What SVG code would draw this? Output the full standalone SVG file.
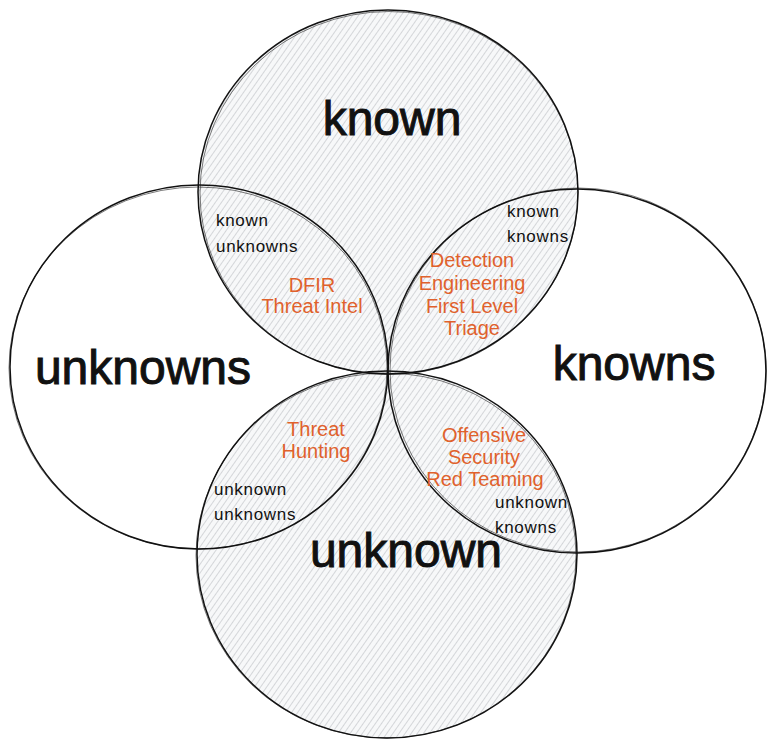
<svg xmlns="http://www.w3.org/2000/svg" width="775" height="749" viewBox="0 0 775 749">
  <style>
    .ring { fill: none; stroke: #111; stroke-width: 1.5; }
    .ring2 { fill: none; stroke: #111; stroke-width: 0.8; opacity: 0.7; }
    .hatch { fill: url(#hatch); stroke: none; }
    .big { font-family: "Liberation Sans", Arial, sans-serif; font-size: 48px; fill: #111; stroke: #111; stroke-width: 1; text-anchor: middle; }
    .small { font-family: "Liberation Sans", Arial, sans-serif; font-size: 17px; fill: #111; letter-spacing: 0.7px; }
    .role { font-family: "Liberation Sans", Arial, sans-serif; font-size: 20px; fill: #E0612C; text-anchor: middle; }
  </style>
  <defs>
    <pattern id="hatch" width="5" height="10" patternUnits="userSpaceOnUse" patternTransform="rotate(35)">
      <rect width="5" height="10" fill="#f7f8f9"/>
      <line x1="2.5" y1="0" x2="2.5" y2="10" stroke="#d4d6d9" stroke-width="1"/>
    </pattern>
  </defs>
  <rect width="775" height="749" fill="#ffffff"/>

  <!-- hatched fills -->
  <ellipse class="hatch" cx="388" cy="192" rx="190" ry="182"/>
  <ellipse class="hatch" cx="387" cy="554.5" rx="190" ry="183.5"/>

  <g id="circle-known">
    <ellipse class="ring" cx="388" cy="192" rx="190" ry="182"/>
    <ellipse class="ring2" cx="389" cy="193" rx="189" ry="181.5"/>
    <text class="big" x="392" y="135">known</text>
  </g>

  <g id="circle-unknowns">
    <ellipse class="ring" cx="199" cy="367" rx="189" ry="182"/>
    <ellipse class="ring2" cx="198" cy="368" rx="189" ry="181"/>
    <text class="big" x="143" y="384">unknowns</text>
  </g>

  <g id="circle-knowns">
    <ellipse class="ring" cx="577" cy="371" rx="189" ry="182"/>
    <ellipse class="ring2" cx="578" cy="370" rx="188" ry="182"/>
    <text class="big" x="634" y="380">knowns</text>
  </g>

  <g id="circle-unknown">
    <ellipse class="ring" cx="387" cy="554.5" rx="190" ry="183.5"/>
    <ellipse class="ring2" cx="386" cy="555.5" rx="190" ry="182.5"/>
    <text class="big" x="406" y="567">unknown</text>
  </g>

  <g id="lens-known-unknowns">
    <text class="small" x="216" y="226">known</text>
    <text class="small" x="216" y="252">unknowns</text>
    <text class="role" x="312" y="292">DFIR</text>
    <text class="role" x="312" y="313">Threat Intel</text>
  </g>

  <g id="lens-known-knowns">
    <text class="small" x="507" y="217">known</text>
    <text class="small" x="507" y="242">knowns</text>
    <text class="role" x="472" y="267">Detection</text>
    <text class="role" x="472" y="290">Engineering</text>
    <text class="role" x="472" y="313">First Level</text>
    <text class="role" x="472" y="335">Triage</text>
  </g>

  <g id="lens-unknown-unknowns">
    <text class="role" x="316" y="436">Threat</text>
    <text class="role" x="316" y="458">Hunting</text>
    <text class="small" x="214" y="495">unknown</text>
    <text class="small" x="214" y="520">unknowns</text>
  </g>

  <g id="lens-unknown-knowns">
    <text class="role" x="484" y="442">Offensive</text>
    <text class="role" x="484" y="464">Security</text>
    <text class="role" x="485" y="486">Red Teaming</text>
    <text class="small" x="495" y="508">unknown</text>
    <text class="small" x="495" y="533">knowns</text>
  </g>

  <g id="connectors"></g>
</svg>
